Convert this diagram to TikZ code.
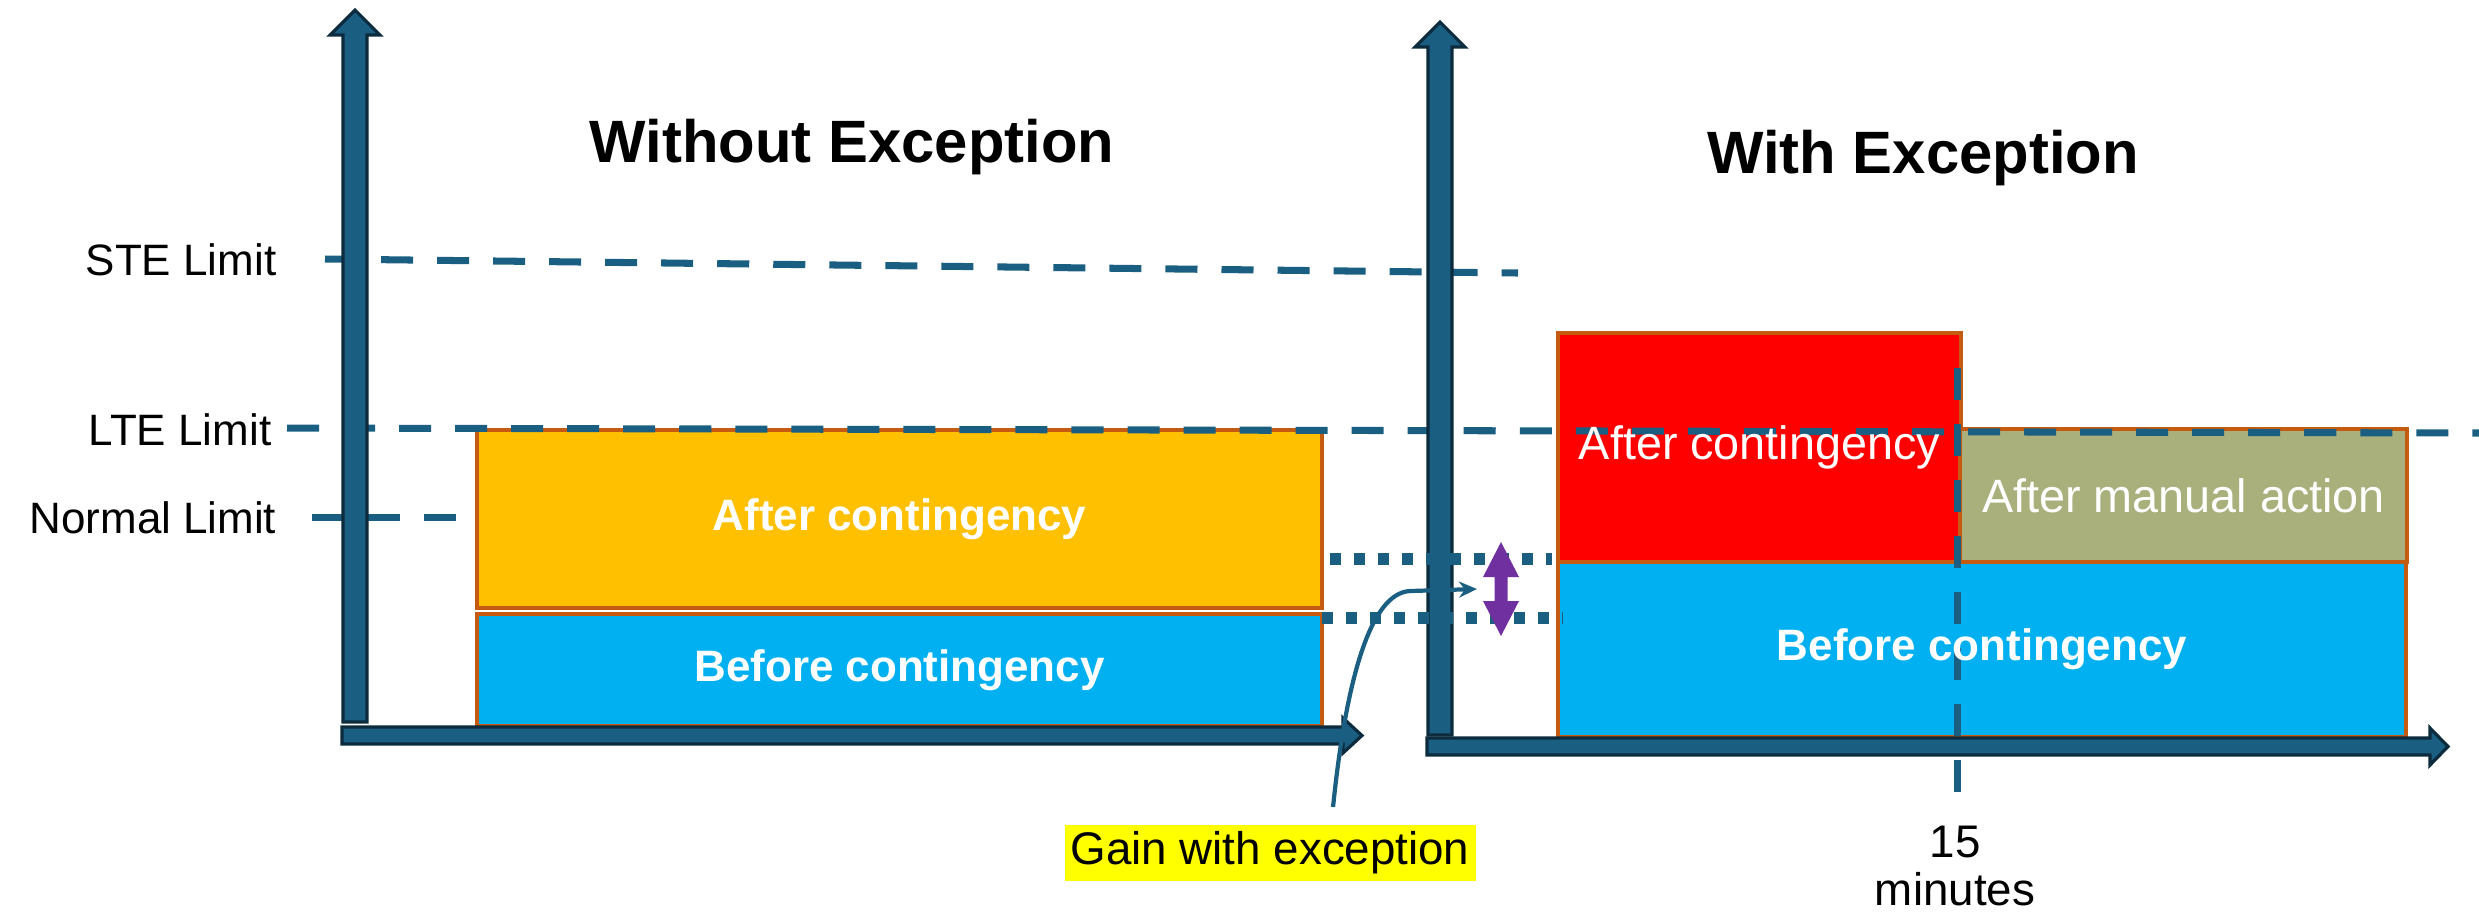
\documentclass[tikz,border=0pt]{standalone}
\usepackage{fontspec}
\setsansfont{Liberation Sans}
\usetikzlibrary{arrows.meta}

\definecolor{axisBlue}{HTML}{1A5F82}
\definecolor{axisDark}{HTML}{0C2B3D}
\definecolor{barEdge}{HTML}{C55A11}
\definecolor{yellowBar}{HTML}{FFC000}
\definecolor{blueBar}{HTML}{00B0F0}
\definecolor{redBar}{HTML}{FF0000}
\definecolor{oliveBar}{HTML}{A9B07C}
\definecolor{gainPurple}{HTML}{7030A0}
\definecolor{gainYellow}{HTML}{FFFF00}

\begin{document}
\begin{tikzpicture}[x=0.01cm, y=-0.01cm, font=\sffamily]
 % --- スタイルを定義 ---
 \tikzset{
    bar/.style={
        rectangle,
        draw=barEdge,
        line width=1.1pt,
        inner sep=0pt
    },
    boldtext/.style={
        font=\sffamily\bfseries\fontsize{12.5}{15}\selectfont,
        text=white
    },
    plaintext/.style={
        font=\sffamily\fontsize{13.3}{16}\selectfont,
        text=white
    },
    limittext/.style={
        font=\sffamily\fontsize{12.5}{15}\selectfont,
        inner sep=0pt
    },
    titletext/.style={
        font=\sffamily\bfseries\fontsize{17}{20}\selectfont,
        inner sep=0pt
    },
    limitline/.style={
        draw=axisBlue,
        line width=2pt,
        dash pattern=on 0.32cm off 0.24cm
    },
    gainline/.style={
        draw=axisBlue,
        line width=0.12cm,
        dash pattern=on 0.11cm off 0.13cm
    },
    axis/.style={
        fill=axisBlue,
        draw=axisDark,
        line width=0.9pt,
        line join=miter
    },
    gaincurve/.style={
        draw=axisBlue,
        line width=1.2pt,
        -{Stealth[length=0.18cm, width=0.16cm]}
    }
 }

 \useasboundingbox (0,0) rectangle (2479,911);

 % --- 左:例外なし ---
 \node[bar, fill=yellowBar, minimum width=8.45cm, minimum height=1.78cm] (afterL) at (899.5,519) {};
 \node[bar, fill=blueBar, minimum width=8.45cm, minimum height=1.12cm] (beforeL) at (899.5,670) {};

 % --- 右:例外あり ---
 \node[bar, fill=redBar, minimum width=4.03cm, minimum height=2.29cm] (afterR) at (1759.5,447.5) {};
 \node[bar, fill=oliveBar, minimum width=4.46cm, minimum height=1.33cm] (manual) at (2183.5,495.5) {};
 \node[bar, fill=blueBar, minimum width=8.48cm, minimum height=1.75cm] (beforeR) at (1982,649.5) {};

 % --- 制限値の破線 ---
 \draw[limitline] (325,259) -- (1518,273);
 \draw[limitline] (287,428) -- (2479,433);
 \draw[limitline] (312,517) -- (458,517);
 % 15分の目盛り
 \draw[limitline] (1957,368) -- (1957,792);

 % --- 軸 ---
 \draw[axis] (343,722) -- (343,35) -- (330,35) -- (355,10) -- (380,35) -- (367,35) -- (367,722) -- cycle;
 \draw[axis] (342,727) -- (1343,727) -- (1343,718) -- (1362,735.5) -- (1343,753) -- (1343,744) -- (342,744) -- cycle;
 \draw[axis] (1428,735) -- (1428,47) -- (1415,47) -- (1440,22) -- (1465,47) -- (1452,47) -- (1452,735) -- cycle;
 \draw[axis] (1427,738) -- (2430,738) -- (2430,728) -- (2448,746.5) -- (2430,765) -- (2430,755) -- (1427,755) -- cycle;

 % --- 例外による増分 ---
 \draw[gainline] (1330,559) -- (1552,559);
 \draw[gainline] (1322,618) -- (1563,618);
 \fill[gainPurple] (1501,542) -- (1519,577) -- (1507.5,577) -- (1507.5,601) -- (1519,601) -- (1501,636)
    -- (1483,601) -- (1494.5,601) -- (1494.5,577) -- (1483,577) -- cycle;

 % --- 棒の文字(線の上に置く) ---
 \node[boldtext] (afterLtext) at (afterL) {After contingency};
 \node[boldtext] (beforeLtext) at (beforeL) {Before contingency};
 \node[plaintext] (afterRtext) at (afterR) {After contingency};
 \node[plaintext] (manualtext) at (manual) {After manual action};
 \node[boldtext] (beforeRtext) at (beforeR) {Before contingency};

 % --- ラベル ---
 \node[limittext, anchor=base east] (ste) at (277,275) {STE Limit};
 \node[limittext, anchor=base east] (lte) at (272,445) {LTE Limit};
 \node[limittext, anchor=base east] (normal) at (277,533) {Normal Limit};

 \node[titletext, anchor=base] (titleL) at (852,162) {Without Exception};
 \node[titletext, anchor=base] (titleR) at (1923,173) {With Exception};

 \node[font=\sffamily\fontsize{13}{13.7}\selectfont, align=center, anchor=north, inner sep=0pt] (tmark) at (1955,825) {15\\minutes};

 \node[font=\sffamily\fontsize{13}{15}\selectfont, fill=gainYellow, inner xsep=0.06cm, inner ysep=0.07cm] (gain) at (1270,853) {Gain with exception};
 \coordinate (gainhead) at (1477,589);
 \draw[gaincurve] ([xshift=0.63cm, yshift=0.17cm]gain.north) .. controls (1345,690) and (1368,593) .. (1410,591) -- (gainhead);
\end{tikzpicture}
\end{document}
